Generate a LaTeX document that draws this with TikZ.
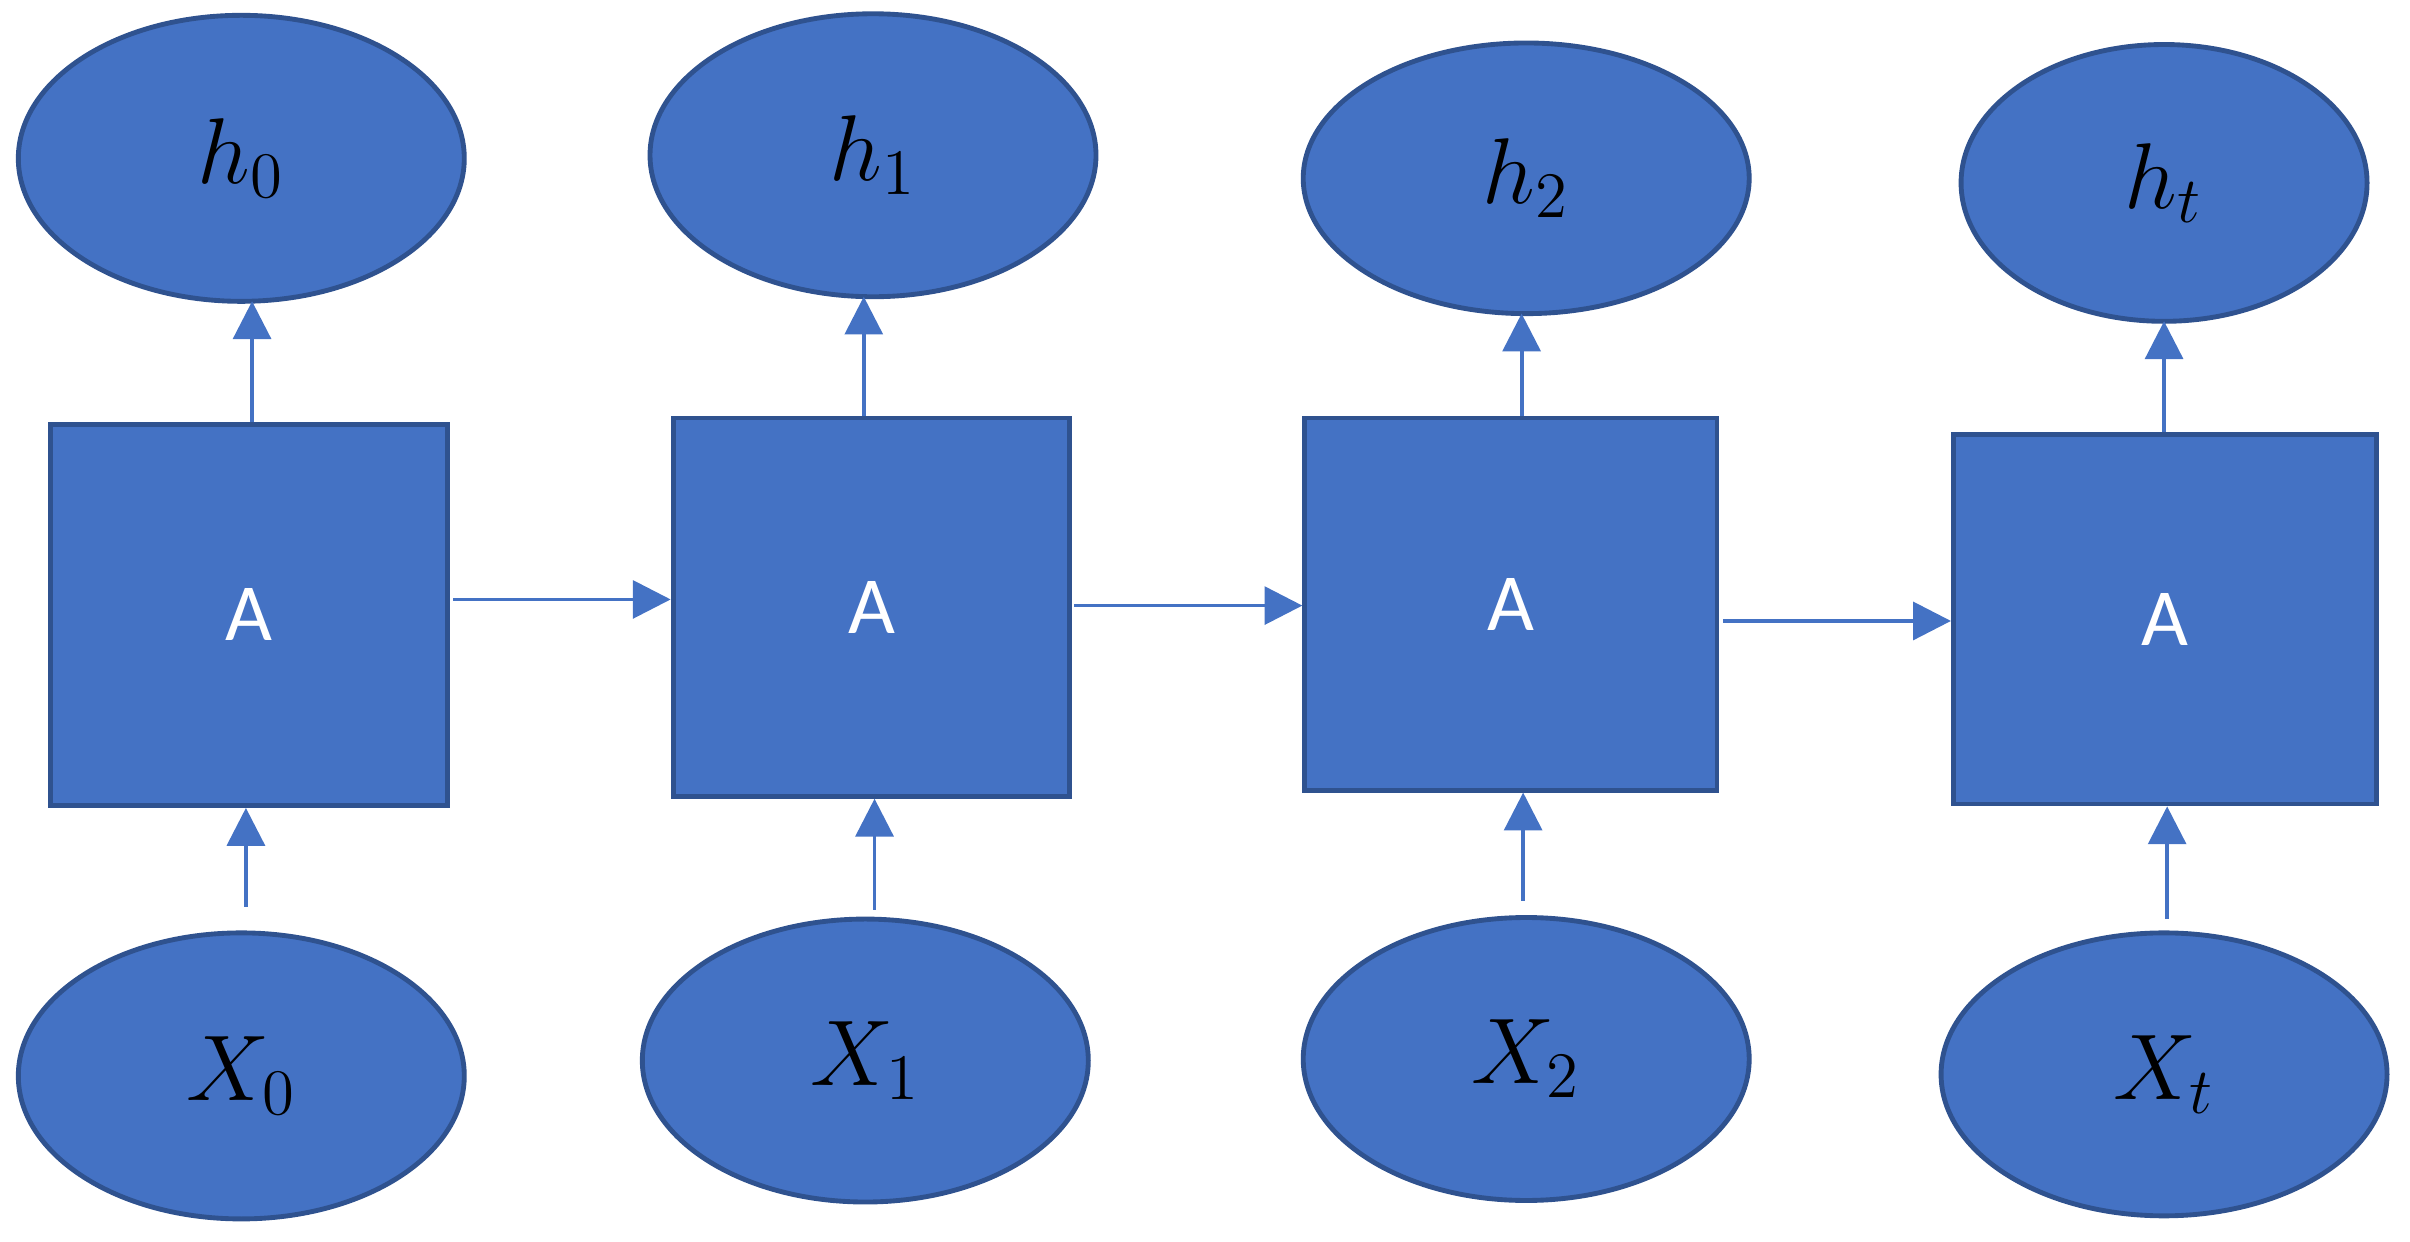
\documentclass[tikz,border=0pt]{standalone}
\usepackage{fontspec}
\newfontfamily\carl{Carlito}
\usetikzlibrary{shapes.geometric,arrows.meta}
\definecolor{fillb}{HTML}{4472C4}
\definecolor{edgeb}{HTML}{2F528F}
\begin{document}
\begin{tikzpicture}[x=0.01cm,y=-0.01cm,
 ell/.style={ellipse,draw=edgeb,fill=fillb,line width=0.9pt,inner sep=0pt,font=\fontsize{17}{19}\selectfont},
 box/.style={rectangle,draw=edgeb,fill=fillb,line width=0.9pt,inner sep=0pt,text=white,font=\carl\fontsize{15}{17}\selectfont},
 arr/.style={draw=fillb,line width=0.7pt,-{Triangle[length=7pt,width=7pt]}}]
\useasboundingbox (0,0) rectangle (1568,808);
\node[ell,minimum width=2.9cm,minimum height=1.86cm] (h0) at (157,103) {$h_0$};
\node[ell,minimum width=2.9cm,minimum height=1.84cm] (h1) at (568,101) {$h_1$};
\node[ell,minimum width=2.9cm,minimum height=1.76cm] (h2) at (993,116) {$h_2$};
\node[ell,minimum width=2.64cm,minimum height=1.8cm] (h3) at (1408,119) {$h_t$};
\node[ell,minimum width=2.9cm,minimum height=1.86cm] (x0) at (157,700) {$X_0$};
\node[ell,minimum width=2.9cm,minimum height=1.84cm] (x1) at (563,690) {$X_1$};
\node[ell,minimum width=2.9cm,minimum height=1.84cm] (x2) at (993,689) {$X_2$};
\node[ell,minimum width=2.9cm,minimum height=1.84cm] (x3) at (1408,699) {$X_t$};
\node[box,minimum width=2.58cm,minimum height=2.48cm] (a0) at (162,400) {A};
\node[box,minimum width=2.58cm,minimum height=2.46cm] (a1) at (567,395) {A};
\node[box,minimum width=2.68cm,minimum height=2.42cm] (a2) at (983,393) {A};
\node[box,minimum width=2.75cm,minimum height=2.40cm] (a3) at (1408.5,403) {A};
% input arrows
\coordinate (i0) at (160,590); \coordinate (i1) at (569,592);
\coordinate (i2) at (991,586); \coordinate (i3) at (1410,598);
\draw[arr] (i0) -- (i0 |- a0.south);
\draw[arr] (i1) -- (i1 |- a1.south);
\draw[arr] (i2) -- (i2 |- a2.south);
\draw[arr] (i3) -- (i3 |- a3.south);
% output arrows
\coordinate (o0) at (164,196); \coordinate (o1) at (562,193);
\coordinate (o2) at (990,204); \coordinate (o3) at (1408,209);
\draw[arr] (o0 |- a0.north) -- (o0);
\draw[arr] (o1 |- a1.north) -- (o1);
\draw[arr] (o2 |- a2.north) -- (o2);
\draw[arr] (o3 |- a3.north) -- (o3);
% recurrent arrows
\coordinate (r0) at (295,390); \coordinate (r1) at (699,394); \coordinate (r2) at (1121,404);
\draw[arr] (r0) -- (r0 -| a1.west);
\draw[arr] (r1) -- (r1 -| a2.west);
\draw[arr] (r2) -- (r2 -| a3.west);
\end{tikzpicture}
\end{document}
